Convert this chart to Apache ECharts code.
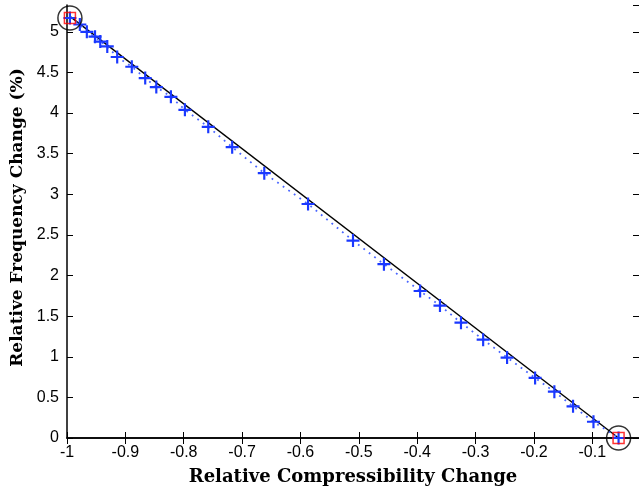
<!DOCTYPE html>
<html lang="en">
<head>
    <meta charset="UTF-8">
    <title>Relative Frequency vs Compressibility</title>
    <style>
        html, body { margin: 0; padding: 0; background: #fff; }
        #chart { width: 639px; height: 494px; }
    </style>
</head>
<body>
<div id="chart"></div>

<script src="https://cdn.jsdelivr.net/npm/echarts@6/dist/echarts.min.js"></script>
<script>
    // measured points (blue +)
    const compChange = [-0.995, -0.978, -0.966, -0.952, -0.943, -0.931, -0.914, -0.889, -0.866, -0.847,
        -0.822, -0.798, -0.758, -0.717, -0.662, -0.587, -0.510, -0.457, -0.395, -0.361,
        -0.325, -0.287, -0.246, -0.198, -0.165, -0.133, -0.098, -0.055];
    const freqChange = [5.17, 5.09, 5.00, 4.94, 4.88, 4.82, 4.69, 4.57, 4.43, 4.32,
        4.20, 4.04, 3.83, 3.58, 3.26, 2.88, 2.43, 2.14, 1.81, 1.63,
        1.42, 1.21, 0.99, 0.74, 0.57, 0.39, 0.20, 0.00];
    // straight reference line between the two end points
    const fitX = [-0.995, -0.055];
    const fitY = [5.19, 0.00];
    // highlighted end points
    const endX = [-0.995, -0.055];
    const endY = [5.17, 0.00];

    const pts = compChange.map((x, i) => [x, freqChange[i]]);
    const fit = fitX.map((x, i) => [x, fitY[i]]);
    const ends = endX.map((x, i) => [x, endY[i]]);

    const plus = 'path://M5,0H7V5H12V7H7V12H5V7H0V5H5Z';
    const tickFont = { fontFamily: 'Liberation Sans', fontSize: 16, color: '#000' };
    const lineStyle = { color: '#000', width: 1.5 };

    const myChart = echarts.init(document.querySelector('#chart'));
    myChart.setOption({
        animation: false,
        grid: { left: 67, right: 0, top: 5, bottom: 56 },
        xAxis: [{
            type: 'value', min: -1, max: -0.02, interval: 0.1,
            name: 'Relative Compressibility Change', nameLocation: 'middle', nameGap: 30,
            nameTextStyle: { fontFamily: 'DejaVu Serif', fontWeight: 'bold', fontSize: 18, color: '#000' },
            axisLine: { lineStyle: lineStyle },
            axisTick: { inside: true, length: 6, lineStyle: { color: '#000' } },
            axisLabel: Object.assign({ margin: 7, showMaxLabel: false,
                formatter: v => String(Math.round(v * 10) / 10) }, tickFont),
            splitLine: { show: false }
        }, {
            type: 'value', position: 'top', min: -1, max: -0.02, interval: 0.1,
            axisLine: { show: true, lineStyle: lineStyle },
            axisTick: { inside: true, length: 6, lineStyle: { color: '#000' } },
            axisLabel: { show: false }, splitLine: { show: false }
        }],
        yAxis: [{
            type: 'value', min: 0, max: 5.33, interval: 0.5,
            name: 'Relative Frequency Change (%)', nameLocation: 'middle', nameGap: 36,
            nameTextStyle: { fontFamily: 'DejaVu Serif', fontWeight: 'bold', fontSize: 17, color: '#000', padding: [0, 0, 0, 8] },
            axisLine: { show: true, lineStyle: lineStyle },
            axisTick: { show: true, inside: true, length: 6, lineStyle: { color: '#000' } },
            axisLabel: Object.assign({ margin: 8, showMaxLabel: false }, tickFont),
            splitLine: { show: false }
        }, {
            type: 'value', position: 'right', min: 0, max: 5.33, interval: 0.5,
            axisLine: { show: false },
            axisTick: { show: true, inside: true, length: 6, lineStyle: { color: '#000' } },
            axisLabel: { show: false }, splitLine: { show: false }
        }],
        series: [{
            type: 'line', data: fit, symbol: 'none',
            lineStyle: { color: '#000', width: 1.4 }, z: 3
        }, {
            type: 'line', data: pts, symbol: plus, symbolSize: 13,
            itemStyle: { color: '#1a38ff' },
            lineStyle: { color: '#4a66ff', width: 1.8, type: [1.8, 5] }, z: 4
        }, {
            type: 'scatter', data: ends, symbol: 'rect', symbolSize: 11,
            itemStyle: { color: 'rgba(0,0,0,0)', borderColor: '#ff0000', borderWidth: 1.5 }, z: 5
        }, {
            type: 'scatter', data: ends, symbol: 'circle', symbolSize: 24,
            itemStyle: { color: 'rgba(0,0,0,0)', borderColor: '#000', borderWidth: 1.5 }, z: 5
        }]
    });
</script>
</body>
</html>
